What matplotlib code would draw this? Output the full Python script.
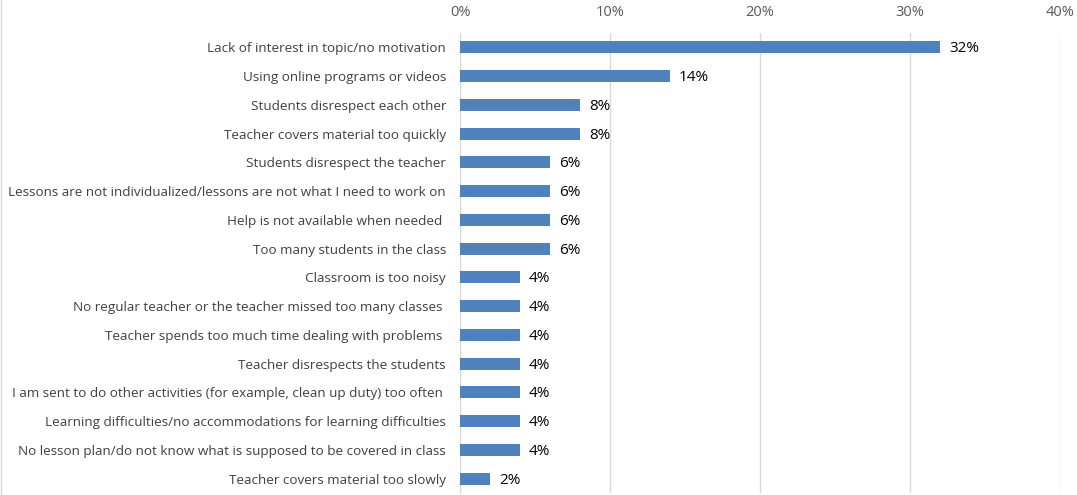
import matplotlib.pyplot as plt
from matplotlib.lines import Line2D

# data, top to bottom as in the chart
reasons = [
    "Lack of interest in topic/no motivation",
    "Using online programs or videos",
    "Students disrespect each other",
    "Teacher covers material too quickly",
    "Students disrespect the teacher",
    "Lessons are not individualized/lessons are not what I need to work on",
    "Help is not available when needed ",
    "Too many students in the class",
    "Classroom is too noisy",
    "No regular teacher or the teacher missed too many classes ",
    "Teacher spends too much time dealing with problems ",
    "Teacher disrespects the students",
    "I am sent to do other activities (for example, clean up duty) too often ",
    "Learning difficulties/no accommodations for learning difficulties",
    "No lesson plan/do not know what is supposed to be covered in class",
    "Teacher covers material too slowly",
]
percent = [32, 14, 8, 8, 6, 6, 6, 6, 4, 4, 4, 4, 4, 4, 4, 2]
x_ticks = [0, 10, 20, 30, 40]

plt.rcParams['font.family'] = ['Open Sans', 'DejaVu Sans']

fig = plt.figure(figsize=(10.77, 4.95), dpi=100)
ax = fig.add_axes([460 / 1077, 2 / 495, 600 / 1077, 460 / 495])

ypos = list(range(len(reasons)))
ax.barh(ypos, percent, height=0.42, color='#4f81bd', zorder=3)
for y, v in zip(ypos, percent):
    ax.text(v + 0.6, y + 0.05, f"{v}%", va='center', ha='left', fontsize=11, color='black')

ax.set_ylim(len(reasons) - 0.5, -0.5)
ax.set_xlim(0, 40)
ax.set_yticks(ypos)
ax.set_yticklabels(reasons, fontsize=9.7, color='#404040')
ax.set_xticks(x_ticks)
ax.set_xticklabels([f"{t}%" for t in x_ticks], fontsize=10.5, color='#595959')
ax.xaxis.tick_top()
ax.tick_params(axis='both', length=0)
ax.tick_params(axis='x', pad=9)
ax.tick_params(axis='y', pad=10)
ax.grid(axis='x', color='#d9d9d9', linewidth=1, zorder=0)
for s in ['top', 'right', 'bottom']:
    ax.spines[s].set_visible(False)
ax.spines['left'].set_color('#d9d9d9')

fig.add_artist(Line2D([0.0005, 0.0005], [0, 1], transform=fig.transFigure, color='#d9d9d9', linewidth=1))

fig.savefig('out.png', dpi=100)
